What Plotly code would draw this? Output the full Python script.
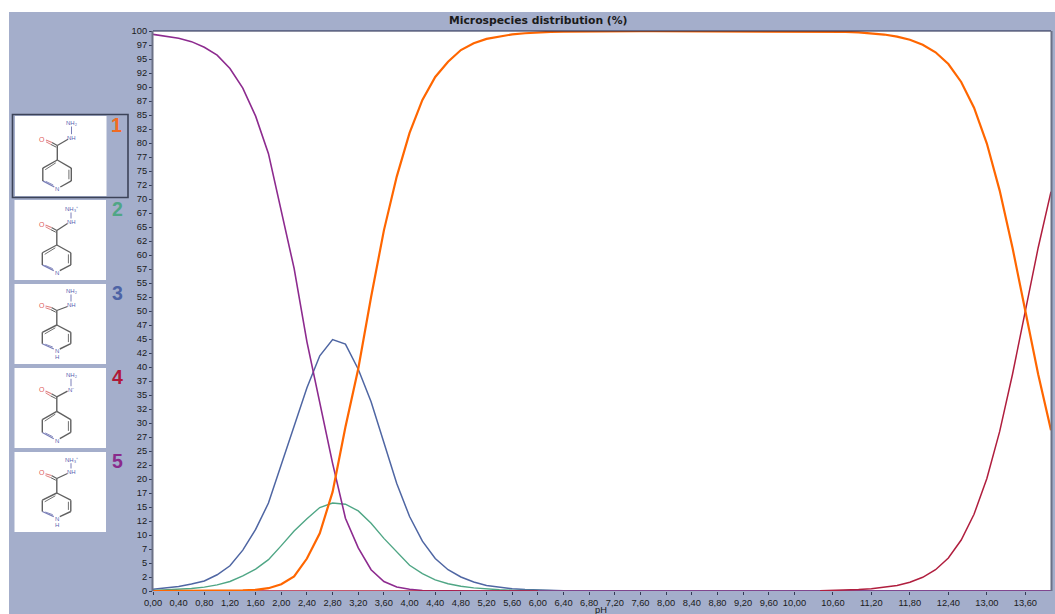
import plotly.graph_objects as go

pH = [0.0,0.2,0.4,0.6,0.8,1.0,1.2,1.4,1.6,1.8,2.0,2.2,2.4,2.6,2.8,3.0,3.2,3.4,3.6,3.8,
      4.0,4.2,4.4,4.6,4.8,5.0,5.2,5.4,5.6,5.8,6.0,6.2,6.4,6.6,6.8,7.0,7.2,7.4,7.6,7.8,
      8.0,8.2,8.4,8.6,8.8,9.0,9.2,9.4,9.6,9.8,10.0,10.2,10.4,10.6,10.8,11.0,11.2,11.4,11.6,11.8,
      12.0,12.2,12.4,12.6,12.8,13.0,13.2,13.4,13.6,13.8,14.0]

species_1 = [0,0,0,0,0.01,0.02,0.05,0.1,0.2,0.5,1.2,2.6,5.8,10.3,17.7,29.3,39.7,52.5,64.4,74.0,
             81.8,87.7,91.8,94.5,96.6,97.8,98.6,99.05,99.4,99.6,99.75,99.85,99.9,99.93,99.96,99.96,99.96,99.96,99.96,99.96,
             99.96,99.96,99.96,99.96,99.96,99.96,99.96,99.96,99.96,99.96,99.96,99.95,99.93,99.9,99.84,99.75,99.6,99.37,99.0,98.44,
             97.55,96.2,94.1,90.9,86.3,79.9,71.5,61.3,50.0,38.7,28.7]
species_2 = [0.1,0.2,0.3,0.45,0.7,1.1,1.7,2.7,3.9,5.6,8.1,10.7,12.9,14.9,15.7,15.5,14.3,12.1,9.4,7.0,
             4.6,3.1,2.0,1.3,0.85,0.55,0.35,0.22,0.14,0.09,0.05,0.03,0.02,0.01,0,0,0,0,0,0,
             0,0,0,0,0,0,0,0,0,0,0,0,0,0,0,0,0,0,0,0,
             0,0,0,0,0,0,0,0,0,0,0]
species_3 = [0.3,0.55,0.8,1.25,1.8,2.9,4.5,7.3,11.0,15.7,22.5,29.6,36.3,42.0,44.9,44.1,39.6,33.8,26.3,19.2,
             13.3,8.9,5.8,3.8,2.5,1.6,1.0,0.65,0.4,0.26,0.16,0.1,0.06,0.04,0.02,0.01,0,0,0,0,
             0,0,0,0,0,0,0,0,0,0,0,0,0,0,0,0,0,0,0,0,
             0,0,0,0,0,0,0,0,0,0,0]
species_4 = [0,0,0,0,0,0,0,0,0,0,0,0,0,0,0,0,0,0,0,0,
             0,0,0,0,0,0,0,0,0,0,0,None,None,None,None,None,None,None,None,None,
             None,None,None,None,None,None,None,None,None,None,None,None,0.06,0.1,0.16,0.25,0.4,0.63,0.99,1.56,
             2.45,3.8,5.9,9.1,13.7,20.1,28.5,38.7,50.0,61.3,71.3]
species_5 = [99.4,99.05,98.7,98.1,97.1,95.7,93.3,89.8,84.8,78.1,67.8,57.6,44.5,33.8,22.8,13.0,7.7,3.8,1.7,0.7,
             0.3,0.1,0.05,0.02,0,0,0,0,0,0,0,0,0,0,0,0,0,0,0,0,
             0,0,0,0,0,0,0,0,0,0,0,0,0,0,0,0,0,0,0,0,
             0,0,0,0,0,0,0,0,0,0,0]

x_ticks = [0,0.4,0.8,1.2,1.6,2.0,2.4,2.8,3.2,3.6,4.0,4.4,4.8,5.2,5.6,6.0,6.4,6.8,7.2,7.6,8.0,8.4,8.8,9.2,9.6,10.0,
           10.6,11.2,11.8,12.4,13.0,13.6]
x_labels = ["0,00","0,40","0,80","1,20","1,60","2,00","2,40","2,80","3,20","3,60","4,00","4,40","4,80","5,20","5,60",
            "6,00","6,40","6,80","7,20","7,60","8,00","8,40","8,80","9,20","9,60","10,00",
            "10,60","11,20","11,80","12,40","13,00","13,60"]
y_ticks = [0,2.5,5,7.5,10,12.5,15,17.5,20,22.5,25,27.5,30,32.5,35,37.5,40,42.5,45,47.5,50,
           52.5,55,57.5,60,62.5,65,67.5,70,72.5,75,77.5,80,82.5,85,87.5,90,92.5,95,97.5,100]
y_labels = ["0","2","5","7","10","12","15","17","20","22","25","27","30","32","35","37","40","42","45","47","50",
            "52","55","57","60","62","65","67","70","72","75","77","80","82","85","87","90","92","95","97","100"]

species_colors = {"1":"#ff6600","2":"#4fa685","3":"#4f66a3","4":"#b01e3e","5":"#8d2b8f"}
label_colors = {"1":"#f26a21","2":"#4fa685","3":"#4d63a5","4":"#b01838","5":"#8a2a8c"}

W, H = 1055, 614
L, R, T, B = 153, 1051, 31, 591
BG = "#a4aecb"
FONT = "Liberation Sans"

def px(x): return (x - L) / (R - L)
def py(y): return (B - y) / (B - T)

shapes, annos = [], []

def rect(x0, y0, x1, y1, fill=None, line=None, width=0, layer="above"):
    shapes.append(dict(type="rect", xref="paper", yref="paper", x0=px(x0), x1=px(x1), y0=py(y0), y1=py(y1),
                       fillcolor=fill, line=dict(color=line, width=width), layer=layer))

def seg(x0, y0, x1, y1, color, width=1.0):
    shapes.append(dict(type="line", xref="paper", yref="paper", x0=px(x0), x1=px(x1), y0=py(y0), y1=py(y1),
                       line=dict(color=color, width=width)))

def text(x, y, s, size, color, bold=False, family=FONT):
    annos.append(dict(xref="paper", yref="paper", x=px(x), y=py(y), text=f"<b>{s}</b>" if bold else s,
                      showarrow=False, xanchor="center", yanchor="middle",
                      font=dict(family=family, size=size, color=color)))

rect(0, 0, W, 12, fill="#ffffff", layer="below")
rect(0, 0, 9, H, fill="#ffffff", layer="below")

seg(L, T, R, T, "#1c2348", 1.2)
seg(L-0.5, T, L-0.5, B, "#6b7186", 2)
seg(R+0.5, T, R+0.5, B, "#6b7186", 2)

BOND = "#606060"
def molecule(bx, by, ring_top, ring_bottom, nh_label, nh_y, top_label, top_y, o_y, below=None):
    rect(bx, by, bx+91.5, by+80, fill="#ffffff")
    cx = 42.3
    t, b = by+ring_top, by+ring_bottom
    h = (b - t)
    ux, lx = cx-14.5, cx+14
    u, l = t+h*0.28, t+h*0.72
    nh = by+nh_y
    o = by+o_y
    xc = bx+cx
    seg(xc, t, xc, t-14.5, BOND, 1.4)
    seg(xc, t-14.5, bx+53, nh+1.5, BOND, 1.3)
    seg(xc, t-14.5, bx+37, t-17.5, BOND, 1.2)
    seg(xc-1, t-12.8, bx+36, t-15.5, BOND, 1.0)
    seg(bx+37, t-17.5, bx+31, o+1.0, "#e08080", 1.2)
    seg(bx+36, t-15.5, bx+31, o+2.8, "#e08080", 1.0)
    seg(bx+56.5, by+top_y+3.5, bx+56.5, nh-3.5, "#7a7fb8", 1.0)
    pts = [(xc, t), (bx+lx, u), (bx+lx, l), (xc+3, b-2), (xc-3, b-2), (bx+ux, l), (bx+ux, u)]
    seg(pts[0][0], pts[0][1], pts[1][0], pts[1][1], BOND, 1.4)
    seg(pts[1][0], pts[1][1], pts[2][0], pts[2][1], BOND, 1.4)
    seg(pts[2][0], pts[2][1], pts[3][0], pts[3][1], BOND, 1.4)
    seg(pts[4][0], pts[4][1], pts[5][0], pts[5][1], "#7a7fb8", 1.3)
    seg(pts[5][0], pts[5][1], pts[6][0], pts[6][1], BOND, 1.4)
    seg(pts[6][0], pts[6][1], pts[0][0], pts[0][1], BOND, 1.4)
    seg(bx+lx-2.4, u+1.6, bx+lx-2.4, l-1.6, BOND, 0.9)
    seg(bx+ux+2.4, u+1.6, xc-1.5, t+2.8, BOND, 0.9)
    seg(bx+ux+3, l+0.5, xc-4, b-4, "#7a7fb8", 0.9)
    text(xc, b, "N", 6, "#5a5fb0")
    if below:
        text(xc, by+below, "H", 6, "#5a5fb0")
    text(bx+27.3, o, "O", 7, "#e06060")
    text(bx+56.5, nh, nh_label, 6, "#5a5fb0")
    text(bx+57, by+top_y, top_label, 6, "#5a5fb0")

molecule(15, 116, 44, 73, "NH", 21.7, "NH₂", 7, 23)
molecule(14.5, 200, 45, 72.7, "NH", 22, "NH₃⁺", 9, 24)
molecule(14.5, 284, 41, 67, "NH", 21, "NH₂", 7, 21, below=72.7)
molecule(14.5, 368, 43.3, 72.7, "N⁻", 21.7, "NH₂", 7.3, 22)
molecule(14.5, 452, 41, 66.7, "NH", 20, "NH₃⁺", 7.7, 20.7, below=72.7)

rect(12.5, 114.5, 128, 197.5, line="#3c4358", width=1.6)

for key, (lx, ly) in {"1":(116.7,125),"2":(117,209),"3":(117,292.5),"4":(117,377),"5":(117,460.7)}.items():
    text(lx, ly, key, 19.5, label_colors[key], bold=True)

text(538.5, 20.5, "Microspecies distribution (%)", 10.8, "#1a1a1a", bold=True, family="DejaVu Sans")
text(601, 609.5, "pH", 9.3, "#1a1a1a")

fig = go.Figure()
for name, ys, w in [("3", species_3, 1.5), ("2", species_2, 1.4), ("5", species_5, 1.6),
                    ("4", species_4, 1.5), ("1", species_1, 2.2)]:
    fig.add_trace(go.Scatter(x=pH, y=ys, mode="lines", name=name, showlegend=False,
                             line=dict(color=species_colors[name], width=w)))

fig.update_layout(
    width=W, height=H, autosize=False,
    margin=dict(l=L, r=W-R, t=T, b=H-B, pad=0),
    paper_bgcolor=BG, plot_bgcolor="#ffffff",
    shapes=shapes, annotations=annos,
    font=dict(family=FONT, size=9.3, color="#1a1a1a"),
    xaxis=dict(range=[0, 14], tickmode="array", tickvals=x_ticks, ticktext=x_labels, ticks="outside",
               ticklen=3, tickwidth=1, tickcolor="#333a55", showgrid=False, zeroline=False, showline=False,
               tickangle=0, tickfont=dict(family=FONT, size=9.3, color="#1a1a1a")),
    yaxis=dict(range=[0, 100], tickmode="array", tickvals=y_ticks, ticktext=y_labels, ticks="outside",
               ticklen=3, tickwidth=1, tickcolor="#333a55", showgrid=False, zeroline=False, showline=False,
               tickfont=dict(family=FONT, size=9.3, color="#1a1a1a")),
)
fig.write_html("out.html", config={"displayModeBar": False},
               post_script="document.body.style.margin='0';document.body.style.overflow='hidden';")
